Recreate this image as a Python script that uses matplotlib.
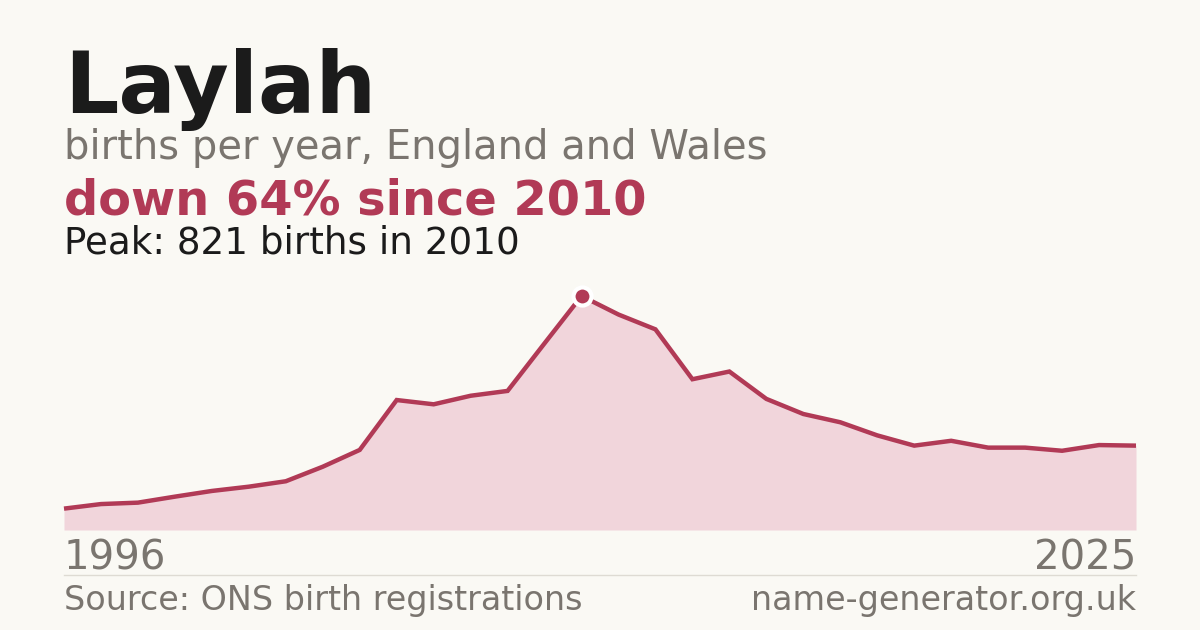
import matplotlib
matplotlib.use("Agg")
import matplotlib.pyplot as plt
from matplotlib.lines import Line2D

# births per year for Laylah, England and Wales
years = list(range(1996, 2026))
births = [75, 91, 96, 117, 137, 152, 171, 222, 281, 456,
          441, 471, 488, 655, 821, 756, 704, 529, 556, 460,
          407, 378, 332, 296, 313, 289, 289, 278, 298, 296]

name = "Laylah"
subtitle = "births per year, England and Wales"
headline = "down 64% since 2010"
peak_note = "Peak: 821 births in 2010"
source = "Source: ONS birth registrations"
site = "name-generator.org.uk"

BG = "#faf9f4"
CRIMSON = "#b13a56"
FILL = "#f1d5db"
DARK = "#1b1b1b"
GREY = "#7a756f"

W, H = 1200, 630


def fy(py):
    # pixel row from top -> figure fraction
    return 1 - py / H


fig = plt.figure(figsize=(W / 100, H / 100), dpi=100, facecolor=BG)

# chart area: baseline at y=530px, peak at y=296px
ax = fig.add_axes([64 / W, fy(530), (1136 - 64) / W, (530 - 296) / H])
ax.set_facecolor("none")
ax.fill_between(years, births, 0, color=FILL, linewidth=0)
ax.plot(years, births, color=CRIMSON, linewidth=3.2, solid_joinstyle="miter",
        solid_capstyle="butt", clip_on=False)
peak_i = births.index(max(births))
ax.plot(years[peak_i], births[peak_i], "o", markersize=13, color=CRIMSON,
        markeredgecolor="white", markeredgewidth=3, clip_on=False, zorder=5)
ax.set_xlim(years[0], years[-1])
ax.set_ylim(0, max(births))
ax.axis("off")

# header text
fig.text(64 / W, fy(112.7), name, fontsize=61.4, fontweight="bold", color=DARK,
         va="baseline", ha="left")
fig.text(64 / W, fy(158.5), subtitle, fontsize=28.8, color=GREY,
         va="baseline", ha="left")
fig.text(64 / W, fy(214.5), headline, fontsize=34.5, fontweight="bold",
         color=CRIMSON, va="baseline", ha="left")
fig.text(64 / W, fy(253.5), peak_note, fontsize=26.8, color=DARK,
         va="baseline", ha="left")

# axis end labels
fig.text(64 / W, fy(570), str(years[0]), fontsize=29, color=GREY,
         va="baseline", ha="left")
fig.text(1136 / W, fy(570), str(years[-1]), fontsize=29, color=GREY,
         va="baseline", ha="right")

# separator and footer
fig.add_artist(Line2D([64 / W, 1136 / W], [fy(574.5), fy(574.5)],
                      color="#dedbd3", linewidth=1))
fig.text(64 / W, fy(610), source, fontsize=24, color=GREY,
         va="baseline", ha="left")
fig.text(1136 / W, fy(610), site, fontsize=24, color=GREY,
         va="baseline", ha="right")

fig.savefig("out.png", dpi=100, facecolor=BG)
